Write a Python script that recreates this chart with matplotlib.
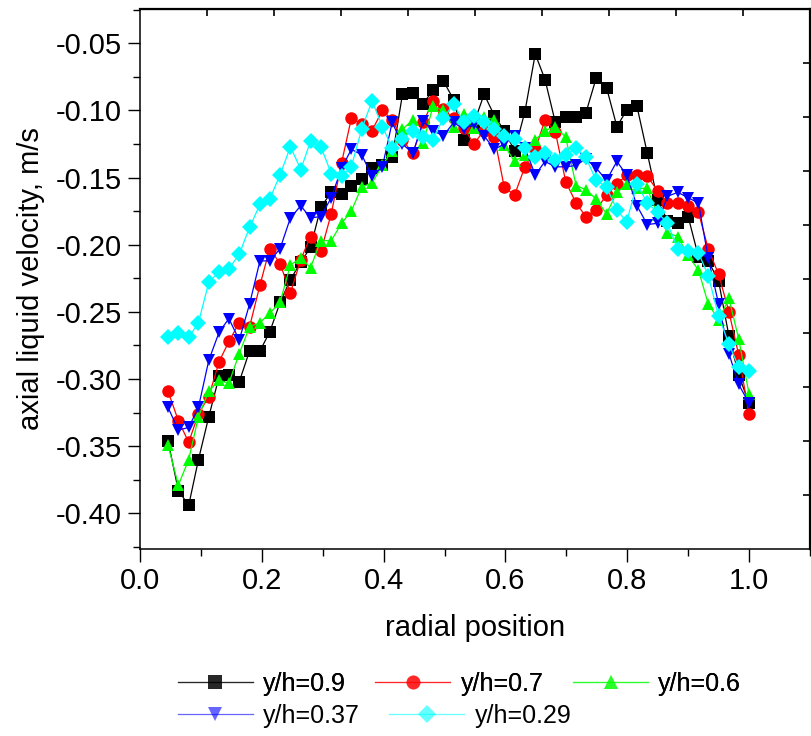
from __future__ import annotations

import matplotlib

matplotlib.use("Agg")
import matplotlib.pyplot as plt
from matplotlib.lines import Line2D
from matplotlib.ticker import MultipleLocator

# radial measurement positions (shared by all heights)
RADIAL_POS = [
    0.046, 0.063, 0.080, 0.096, 0.113, 0.130, 0.146, 0.163, 0.180, 0.197,
    0.213, 0.230, 0.247, 0.264, 0.280, 0.297, 0.314, 0.331, 0.347, 0.364,
    0.381, 0.398, 0.414, 0.431, 0.448, 0.465, 0.481, 0.498, 0.515, 0.532,
    0.548, 0.565, 0.582, 0.598, 0.615, 0.632, 0.649, 0.665, 0.682, 0.699,
    0.716, 0.732, 0.749, 0.766, 0.783, 0.799, 0.816, 0.833, 0.850, 0.866,
    0.883, 0.900, 0.917, 0.933, 0.950, 0.967, 0.983, 1.000,
]

VEL_090 = [
    -0.346, -0.383, -0.394, -0.360, -0.328, -0.298, -0.297, -0.302, -0.279, -0.279,
    -0.265, -0.243, -0.226, -0.213, -0.202, -0.172, -0.161, -0.162, -0.156, -0.151,
    -0.143, -0.141, -0.135, -0.088, -0.087, -0.095, -0.085, -0.078, -0.092, -0.122,
    -0.110, -0.088, -0.104, -0.115, -0.130, -0.101, -0.058, -0.077, -0.109, -0.105,
    -0.105, -0.102, -0.076, -0.083, -0.112, -0.100, -0.097, -0.132, -0.167, -0.182,
    -0.184, -0.179, -0.209, -0.212, -0.227, -0.268, -0.297, -0.318,
]
VEL_070 = [
    -0.309, -0.331, -0.347, -0.326, -0.313, -0.287, -0.272, -0.258, -0.261, -0.230,
    -0.203, -0.214, -0.236, -0.211, -0.194, -0.205, -0.177, -0.139, -0.106, -0.110,
    -0.115, -0.100, -0.107, -0.122, -0.132, -0.109, -0.093, -0.099, -0.106, -0.113,
    -0.125, -0.115, -0.120, -0.157, -0.163, -0.142, -0.129, -0.107, -0.116, -0.153,
    -0.169, -0.179, -0.174, -0.163, -0.155, -0.148, -0.148, -0.149, -0.160, -0.169,
    -0.169, -0.171, -0.176, -0.203, -0.222, -0.250, -0.282, -0.326,
]
VEL_060 = [
    -0.349, -0.379, -0.360, -0.328, -0.309, -0.301, -0.303, -0.281, -0.261, -0.258,
    -0.251, -0.243, -0.215, -0.210, -0.217, -0.197, -0.197, -0.184, -0.175, -0.157,
    -0.154, -0.141, -0.130, -0.114, -0.107, -0.124, -0.097, -0.100, -0.112, -0.103,
    -0.113, -0.105, -0.107, -0.126, -0.138, -0.133, -0.122, -0.115, -0.112, -0.120,
    -0.156, -0.159, -0.166, -0.177, -0.161, -0.155, -0.158, -0.158, -0.178, -0.191,
    -0.194, -0.208, -0.219, -0.244, -0.256, -0.240, -0.270, -0.311,
]
VEL_037 = [
    -0.321, -0.338, -0.336, -0.321, -0.286, -0.265, -0.255, -0.271, -0.244, -0.212,
    -0.212, -0.203, -0.180, -0.171, -0.180, -0.179, -0.165, -0.143, -0.129, -0.133,
    -0.149, -0.142, -0.109, -0.125, -0.132, -0.108, -0.115, -0.119, -0.109, -0.114,
    -0.110, -0.119, -0.129, -0.125, -0.119, -0.128, -0.148, -0.138, -0.142, -0.142,
    -0.141, -0.136, -0.143, -0.152, -0.138, -0.148, -0.171, -0.185, -0.184, -0.164,
    -0.161, -0.165, -0.169, -0.210, -0.244, -0.281, -0.304, -0.318,
]
VEL_029 = [
    -0.269, -0.266, -0.269, -0.258, -0.228, -0.220, -0.218, -0.207, -0.187, -0.170,
    -0.166, -0.148, -0.127, -0.144, -0.123, -0.127, -0.147, -0.149, -0.142, -0.114,
    -0.093, -0.112, -0.128, -0.121, -0.115, -0.120, -0.122, -0.106, -0.095, -0.109,
    -0.104, -0.109, -0.114, -0.119, -0.121, -0.128, -0.135, -0.132, -0.137, -0.133,
    -0.128, -0.135, -0.152, -0.157, -0.174, -0.183, -0.155, -0.169, -0.176, -0.184,
    -0.203, -0.205, -0.206, -0.223, -0.253, -0.274, -0.291, -0.294,
]

SERIES_LABELS = ["y/h=0.9", "y/h=0.7", "y/h=0.6", "y/h=0.37", "y/h=0.29"]
SERIES_COLORS = ["#000000", "#ff0000", "#00ff00", "#0000ff", "#00ffff"]
SERIES_MARKERS = ["s", "o", "^", "v", "D"]

XLIM = (0.0, 1.1)
YLIM = (-0.4265, -0.0245)
FONT_SIZE = 21
LEGEND_SIZE = 18
OUT_PATH = "out.png"


def style_axes(ax) -> None:
    ax.set_xlim(*XLIM)
    ax.set_ylim(*YLIM)
    ax.xaxis.set_major_locator(MultipleLocator(0.2))
    ax.xaxis.set_minor_locator(MultipleLocator(0.1))
    ax.yaxis.set_major_locator(MultipleLocator(0.05))
    ax.yaxis.set_minor_locator(MultipleLocator(0.025))
    ax.xaxis.set_major_formatter(plt.FuncFormatter(lambda v, _: f"{v:.1f}"))
    ax.yaxis.set_major_formatter(plt.FuncFormatter(lambda v, _: f"{v:.2f}"))
    ax.tick_params(which="major", direction="out", length=9, width=1.0, labelsize=FONT_SIZE, pad=4)
    ax.tick_params(which="minor", direction="out", length=5, width=1.0)
    for side in ("left", "bottom"):
        ax.spines[side].set_linewidth(1.1)
    for side in ("top", "right"):
        ax.spines[side].set_linewidth(1.6)

    # Origin draws the opposite axes with their own 0..1 scale, ticks inward
    top = ax.secondary_xaxis("top", functions=(lambda x: x / XLIM[1], lambda x: x * XLIM[1]))
    top.set_xticks([i / 10 for i in range(1, 10)])
    top.tick_params(direction="in", length=5, width=1.2, labeltop=False)
    span = YLIM[1] - YLIM[0]
    right = ax.secondary_yaxis(
        "right",
        functions=(lambda y: (y - YLIM[0]) / span, lambda y: y * span + YLIM[0]),
    )
    right.set_yticks([i / 10 for i in range(1, 10)])
    right.tick_params(direction="in", length=5, width=1.2, labelright=False)


def add_legend_rows(fig, handles: list, labels: list[str]) -> None:
    common = dict(
        frameon=False,
        fontsize=LEGEND_SIZE,
        handlelength=3.0,
        handletextpad=0.4,
        columnspacing=1.2,
        borderaxespad=0.0,
        borderpad=0.0,
        loc="center left",
    )
    first = fig.legend(handles[:3], labels[:3], ncol=3, bbox_to_anchor=(0.219, 0.071), **common)
    fig.add_artist(first)
    fig.legend(handles[3:], labels[3:], ncol=2, bbox_to_anchor=(0.219, 0.027), **common)


def main() -> None:
    plt.rcParams["font.family"] = ["Liberation Sans", "DejaVu Sans"]
    fig = plt.figure(figsize=(8.11, 7.36), dpi=100)
    ax = fig.add_axes([0.1726, 0.2541, 0.8261, 0.7337])

    series = [VEL_090, VEL_070, VEL_060, VEL_037, VEL_029]
    handles = []
    for values, label, color, marker in zip(series, SERIES_LABELS, SERIES_COLORS, SERIES_MARKERS):
        size = 8 if marker == "D" else 9
        ax.plot(
            RADIAL_POS, values, color=color, linewidth=0.9, marker=marker,
            markersize=size, markeredgewidth=0, label=label,
        )
        handles.append(Line2D([], [], color=color, linewidth=0.9, alpha=0.6, marker=marker,
                              markersize=size + 1, markeredgewidth=0, markerfacecolor=color))

    style_axes(ax)
    ax.set_xlabel("radial position", fontsize=FONT_SIZE, labelpad=14)
    ax.set_ylabel("axial liquid velocity, m/s", fontsize=FONT_SIZE, labelpad=8)
    add_legend_rows(fig, handles, SERIES_LABELS)

    fig.savefig(OUT_PATH, dpi=100, facecolor="white")
    plt.close(fig)


if __name__ == "__main__":
    main()
